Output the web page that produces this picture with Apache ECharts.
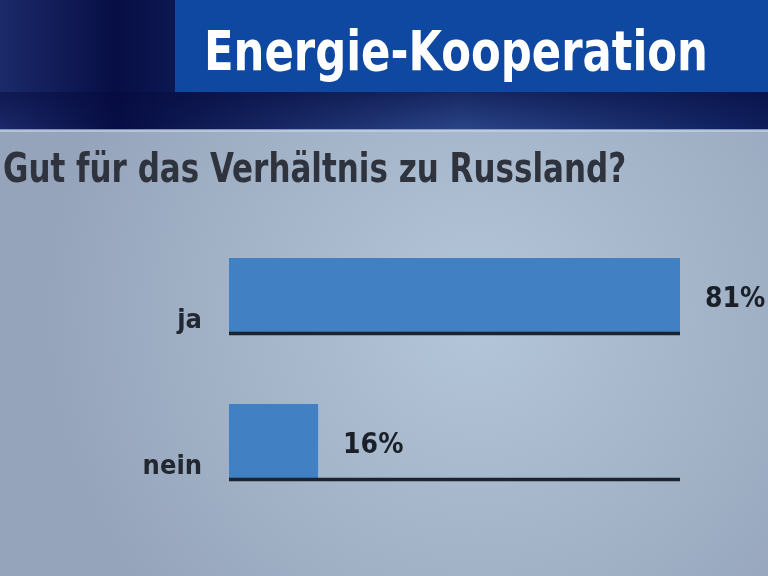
<!DOCTYPE html>
<html>
<head>
<meta charset="utf-8">
<script src="https://cdn.jsdelivr.net/npm/echarts@6/dist/echarts.min.js"></script>
<style>
  html, body { margin: 0; padding: 0; }
  #main { width: 768px; height: 576px; }
</style>
</head>
<body>
<div id="main"></div>
<script>
var chartDom = document.getElementById('main');
var myChart = echarts.init(chartDom);
var option;

// survey answers, percent
let categories = ['ja', 'nein'];
let values = [81, 16];
let axisMax = 81;

let barW = 74;
let font = '"DejaVu Sans Condensed", "DejaVu Sans", sans-serif';

option = {
  backgroundColor: {
    type: 'radial', x: 0.62, y: 0.55, r: 0.75,
    colorStops: [
      { offset: 0, color: '#b4c6da' },
      { offset: 1, color: '#95a4ba' }
    ]
  },
  graphic: [
    {
      type: 'rect', z: -10,
      shape: { x: 0, y: 0, width: 768, height: 130 },
      style: {
        fill: {
          type: 'linear', x: 0, y: 0, x2: 1, y2: 0,
          colorStops: [
            { offset: 0, color: '#1c2a6a' },
            { offset: 0.15, color: '#070e45' },
            { offset: 0.6, color: '#2a4588' },
            { offset: 1, color: '#0e1e5c' }
          ]
        }
      }
    },
    {
      type: 'rect', z: -9,
      shape: { x: 0, y: 92, width: 768, height: 38 },
      style: {
        fill: {
          type: 'linear', x: 0, y: 0, x2: 0, y2: 1,
          colorStops: [
            { offset: 0, color: 'rgba(5,10,60,0.5)' },
            { offset: 1, color: 'rgba(5,10,60,0)' }
          ]
        }
      }
    },
    {
      type: 'rect', z: -8,
      shape: { x: 0, y: 129, width: 768, height: 3 },
      style: { fill: 'rgba(200,215,235,0.6)' }
    },
    {
      type: 'rect', z: -8,
      shape: { x: 175, y: 0, width: 593, height: 92 },
      style: { fill: '#0f48a0' }
    },
    {
      type: 'text', z: 10,
      x: 204, y: 55, scaleX: 0.86,
      style: {
        text: 'Energie-Kooperation',
        fill: '#ffffff',
        font: 'bold 56px ' + font,
        verticalAlign: 'middle'
      }
    },
    {
      type: 'text', z: 10,
      x: 3, y: 171, scaleX: 0.84,
      style: {
        text: 'Gut für das Verhältnis zu Russland?',
        fill: '#2e333d',
        font: 'bold 41px ' + font,
        verticalAlign: 'middle'
      }
    }
  ],
  grid: { left: 229, right: 88, top: 222, bottom: 62 },
  xAxis: {
    type: 'value', min: 0, max: axisMax, show: false
  },
  yAxis: {
    type: 'category',
    data: categories,
    inverse: true,
    axisLine: { show: false },
    axisTick: { show: false },
    axisLabel: {
      margin: 27,
      formatter: function (v) { return '{c|' + v + '}'; },
      rich: {
        c: {
          padding: [51, 0, 0, 0],
          color: '#23272f',
          fontFamily: font,
          fontWeight: 'bold',
          fontSize: 27
        }
      }
    }
  },
  series: [
    {
      type: 'bar',
      data: values,
      barWidth: barW,
      itemStyle: { color: '#4180c2' },
      label: {
        show: true,
        position: 'right',
        distance: 25,
        offset: [0, 5],
        formatter: '{c}%',
        color: '#1b1f28',
        fontFamily: font,
        fontWeight: 'bold',
        fontSize: 28
      }
    },
    {
      type: 'custom',
      data: categories.map(function (c, i) { return [axisMax, i]; }),
      encode: { x: 0, y: 1 },
      z: 5,
      renderItem: function (params, api) {
        let end = api.coord([api.value(0), api.value(1)]);
        let start = api.coord([0, api.value(1)]);
        let y = end[1] + barW / 2 + 1.5;
        return {
          type: 'line',
          shape: { x1: start[0], y1: y, x2: end[0], y2: y },
          style: { stroke: '#1b232e', lineWidth: 3.5 }
        };
      }
    }
  ]
};

option && myChart.setOption(option);
</script>
</body>
</html>
